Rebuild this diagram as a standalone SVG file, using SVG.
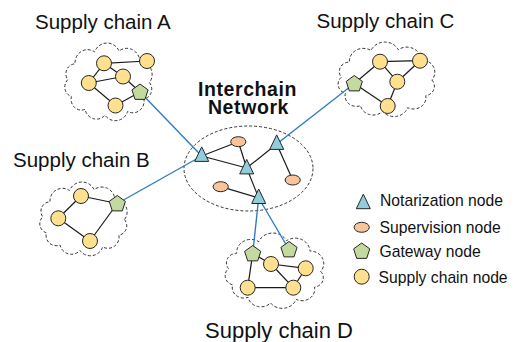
<svg xmlns="http://www.w3.org/2000/svg" xmlns:xlink="http://www.w3.org/1999/xlink" width="519" height="342" viewBox="0 0 519 342">
  <style>
    .title { font-family: "Liberation Sans", Arial, sans-serif; font-size: 20.5px; fill: #111; }
    .hub { font-family: "Liberation Sans", Arial, sans-serif; font-size: 19.5px; font-weight: bold; letter-spacing: 0.6px; fill: #111; }
    .legend { font-family: "Liberation Sans", Arial, sans-serif; font-size: 15.7px; fill: #111; }
    .cloud { fill: #fff; stroke: #333; stroke-width: 1; stroke-dasharray: 3 2; }
    .edge { stroke: #1a1a1a; stroke-width: 1.2; fill: none; }
    .link { stroke: #2f7cc6; stroke-width: 1.4; fill: none; }
    .sc { fill: #ffe08f; stroke: #262626; stroke-width: 1; }
    .gw { fill: #c4d9a0; stroke: #262626; stroke-width: 1; }
    .nt { fill: #92cddc; stroke: #262626; stroke-width: 1; }
    .sv { fill: #f8c49a; stroke: #262626; stroke-width: 1; }
  </style>
  <defs>
    <!-- cloud outline in a 100x80 box -->
    <path id="cloudShape" class="cloud" vector-effect="non-scaling-stroke"
      d="M94,40 A10,10 0 0,1 88.1,56.5 A12,12 0 0,1 70.6,69.1 A14,14 0 0,1 46.2,72.9 A12.5,12.5 0 0,1 24.8,67 A11,11 0 0,1 10.1,54 A10,10 0 0,1 6.2,37.1 A10,10 0 0,1 14,21.1 A13.5,13.5 0 0,1 35,9 A14.5,14.5 0 0,1 61.4,8.1 A14,14 0 0,1 83.7,18.8 A13,13 0 0,1 94,40 Z"/>
    <polygon id="pent" class="gw" points="0,-8.5 8.08,-2.63 5,6.88 -5,6.88 -8.08,-2.63"/>
    <polygon id="tri" class="nt" points="0,-7.3 7,7.2 -7,7.2"/>
    <circle id="scn" class="sc" r="7.5"/>
    <ellipse id="svn" class="sv" rx="7.6" ry="5"/>
  </defs>

  <!-- titles -->
  <text class="title" x="35" y="29">Supply chain A</text>
  <text class="title" x="316.5" y="28">Supply chain C</text>
  <text class="title" x="13" y="167">Supply chain B</text>
  <text class="title" x="205" y="338" style="font-size:22px">Supply chain D</text>
  <text class="hub" x="247.5" y="95.5" text-anchor="middle">Interchain</text>
  <text class="hub" x="248.5" y="113.5" text-anchor="middle">Network</text>

  <!-- boundaries -->
  <g id="clouds">
    <use xlink:href="#cloudShape" transform="translate(62,43) scale(0.93,0.99)"/>
    <use xlink:href="#cloudShape" transform="translate(37,182) scale(0.93,0.94)"/>
    <use xlink:href="#cloudShape" transform="translate(335,42) scale(1.03,0.95)"/>
    <use xlink:href="#cloudShape" transform="translate(222,233) scale(1.05,0.96)"/>
    <ellipse cx="248.5" cy="168.5" rx="64.5" ry="42.5" fill="none" stroke="#333" stroke-width="1" stroke-dasharray="3 2"/>
  </g>

  <!-- connectors -->
  <g id="connectors">
    <!-- chain A -->
    <line class="edge" x1="104" y1="63.3" x2="147" y2="61"/>
    <line class="edge" x1="104" y1="63.3" x2="88.8" y2="83"/>
    <line class="edge" x1="104" y1="63.3" x2="123" y2="76.5"/>
    <line class="edge" x1="88.8" y1="83" x2="123" y2="76.5"/>
    <line class="edge" x1="123" y1="76.5" x2="140" y2="92"/>
    <line class="edge" x1="88.8" y1="83" x2="115.5" y2="105.5"/>
    <line class="edge" x1="115.5" y1="105.5" x2="140" y2="92"/>
    <!-- chain B -->
    <line class="edge" x1="81" y1="196" x2="58.3" y2="218.3"/>
    <line class="edge" x1="81" y1="196" x2="117.3" y2="203.5"/>
    <line class="edge" x1="58.3" y1="218.3" x2="90" y2="241"/>
    <line class="edge" x1="90" y1="241" x2="117.3" y2="203.5"/>
    <!-- chain C -->
    <line class="edge" x1="354.3" y1="83.5" x2="380" y2="61.7"/>
    <line class="edge" x1="380" y1="61.7" x2="420" y2="60.7"/>
    <line class="edge" x1="380" y1="61.7" x2="397.3" y2="81.7"/>
    <line class="edge" x1="420" y1="60.7" x2="397.3" y2="81.7"/>
    <line class="edge" x1="354.3" y1="83.5" x2="387.7" y2="106"/>
    <line class="edge" x1="397.3" y1="81.7" x2="387.7" y2="106"/>
    <!-- chain D -->
    <line class="edge" x1="252.7" y1="253.5" x2="247.7" y2="287.7"/>
    <line class="edge" x1="252.7" y1="253.5" x2="271" y2="264"/>
    <line class="edge" x1="271" y1="264" x2="305.7" y2="268.3"/>
    <line class="edge" x1="271" y1="264" x2="293.3" y2="287.7"/>
    <line class="edge" x1="305.7" y1="268.3" x2="293.3" y2="287.7"/>
    <line class="edge" x1="247.7" y1="287.7" x2="293.3" y2="287.7"/>
    <!-- interchain network -->
    <line class="edge" x1="201.7" y1="156" x2="238.3" y2="141.7"/>
    <line class="edge" x1="201.7" y1="156" x2="246.7" y2="168"/>
    <line class="edge" x1="238.3" y1="141.7" x2="246.7" y2="168"/>
    <line class="edge" x1="246.7" y1="168" x2="276.7" y2="144"/>
    <line class="edge" x1="276.7" y1="144" x2="292.7" y2="180"/>
    <line class="edge" x1="246.7" y1="168" x2="258.7" y2="198"/>
    <line class="edge" x1="220.7" y1="186.7" x2="258.7" y2="198"/>
    <!-- gateway links -->
    <line class="link" x1="140" y1="92" x2="201.7" y2="156"/>
    <line class="link" x1="117.3" y1="203.5" x2="201.7" y2="156"/>
    <line class="link" x1="354.3" y1="83.5" x2="276.7" y2="144"/>
    <line class="link" x1="258.7" y1="198" x2="252.7" y2="253.5"/>
    <line class="link" x1="258.7" y1="198" x2="289" y2="249.5"/>
  </g>

  <!-- chain A nodes -->
  <g id="chainA">
    <use xlink:href="#scn" x="104" y="63.3"/>
    <use xlink:href="#scn" x="147" y="61"/>
    <use xlink:href="#scn" x="123" y="76.5"/>
    <use xlink:href="#scn" x="88.8" y="83"/>
    <use xlink:href="#scn" x="115.5" y="105.5"/>
    <use xlink:href="#pent" x="140" y="92.5"/>
  </g>
  <g id="chainB">
    <use xlink:href="#scn" x="81" y="196"/>
    <use xlink:href="#scn" x="58.3" y="218.3"/>
    <use xlink:href="#scn" x="90" y="241"/>
    <use xlink:href="#pent" x="117.3" y="204"/>
  </g>
  <g id="chainC">
    <use xlink:href="#scn" x="380" y="61.7"/>
    <use xlink:href="#scn" x="420" y="60.7"/>
    <use xlink:href="#scn" x="397.3" y="81.7"/>
    <use xlink:href="#scn" x="387.7" y="106"/>
    <use xlink:href="#pent" x="354.3" y="84"/>
  </g>
  <g id="chainD">
    <use xlink:href="#scn" x="271" y="264"/>
    <use xlink:href="#scn" x="305.7" y="268.3"/>
    <use xlink:href="#scn" x="247.7" y="287.7"/>
    <use xlink:href="#scn" x="293.3" y="287.7"/>
    <use xlink:href="#pent" x="252.7" y="254"/>
    <use xlink:href="#pent" x="289" y="250"/>
  </g>
  <g id="interchain">
    <use xlink:href="#tri" x="201.7" y="154.2"/>
    <use xlink:href="#tri" x="276.7" y="142.2"/>
    <use xlink:href="#tri" x="246.7" y="166.7"/>
    <use xlink:href="#tri" x="258.7" y="196.3"/>
    <use xlink:href="#svn" x="238.3" y="141.7"/>
    <use xlink:href="#svn" x="292.7" y="180"/>
    <use xlink:href="#svn" x="220.7" y="186.7"/>
  </g>

  <!-- legend -->
  <g id="legend">
    <use xlink:href="#tri" x="363.3" y="201.5"/>
    <text class="legend" x="380" y="206">Notarization node</text>
    <use xlink:href="#svn" x="361.7" y="227.3"/>
    <text class="legend" x="379.5" y="232.5">Supervision node</text>
    <use xlink:href="#pent" x="361.7" y="251.5"/>
    <text class="legend" x="379.5" y="257">Gateway node</text>
    <use xlink:href="#scn" x="361.7" y="276.7"/>
    <text class="legend" x="378.5" y="282.5">Supply chain node</text>
  </g>
</svg>
